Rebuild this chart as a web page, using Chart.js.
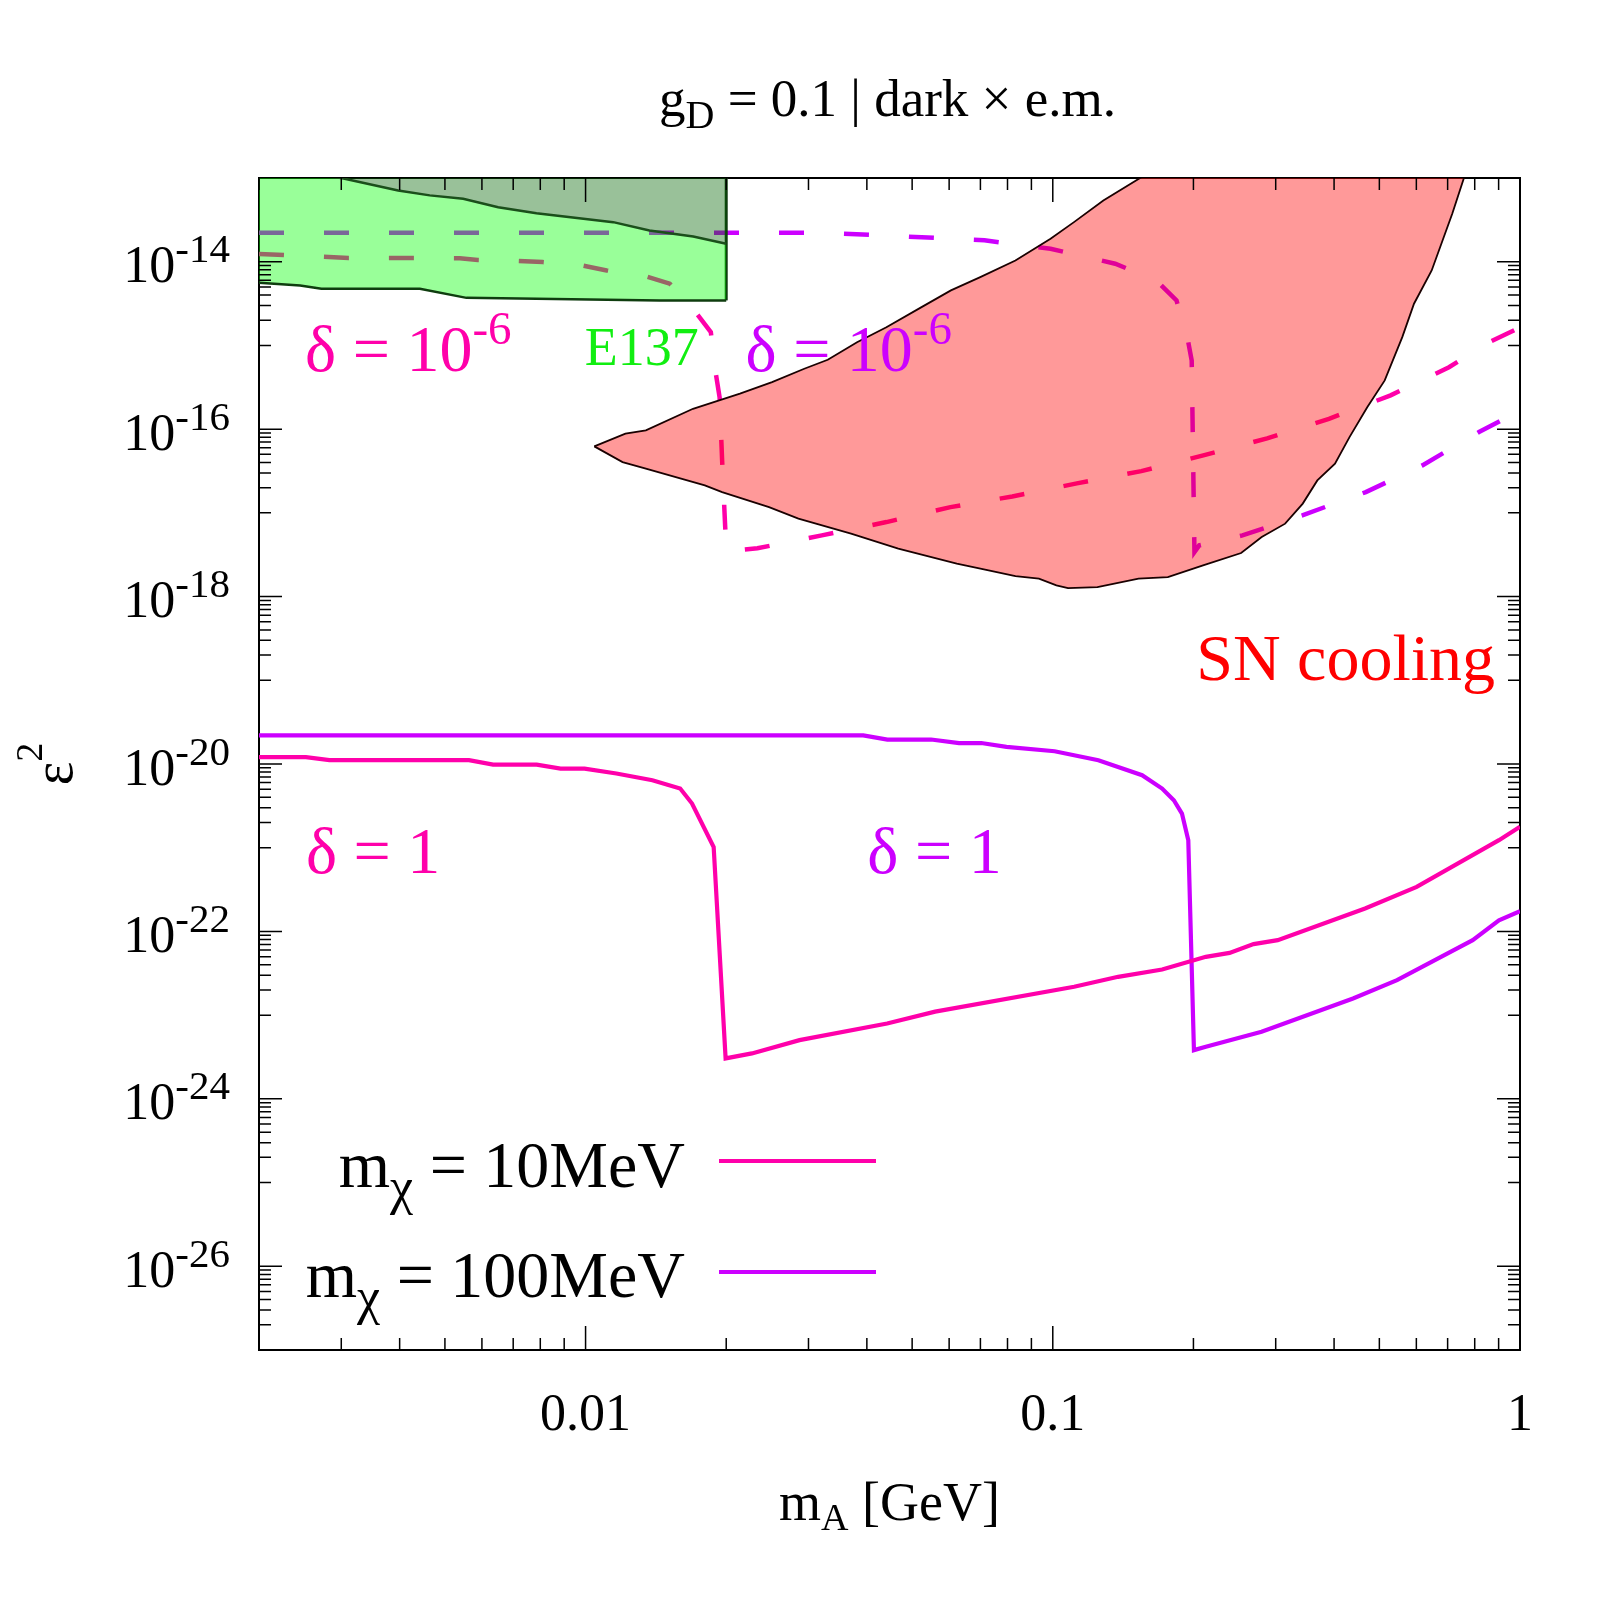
<!DOCTYPE html>
<html>
<head>
<meta charset="utf-8">
<title>gD = 0.1 | dark x e.m.</title>
<script src="https://cdn.jsdelivr.net/npm/chart.js@4.4.1/dist/chart.umd.min.js"></script>
<style>
  html, body { margin: 0; padding: 0; background: #ffffff; }
  #box { width: 1600px; height: 1600px; }
</style>
</head>
<body>
<div id="box"><canvas id="limitsChart" width="1600" height="1600"></canvas></div>
<script>
/* ===========================================
   DATA  (x = m_A [GeV], y = epsilon^2)
=========================================== */

const xMajorTicks = [0.01, 0.1, 1];
const xTickLabels = ["0.01", "0.1", "1"];
const xDecades = [0.001, 0.01, 0.1];
const yMajorTicks = [1e-26, 1e-24, 1e-22, 1e-20, 1e-18, 1e-16, 1e-14];
const yTickExponents = ["-26", "-24", "-22", "-20", "-18", "-16", "-14"];
const minorSteps = [2, 3, 4, 5, 6, 7, 8, 9];

// E137 excluded band
const e137Upper = [
    [0.002, 1.3e-13], [0.0030, 1.0e-13], [0.00397, 7.1e-14], [0.00464, 6.2e-14],
    [0.00547, 5.65e-14], [0.0065, 4.48e-14], [0.00785, 3.8e-14], [0.01146, 2.97e-14],
    [0.0137, 2.36e-14], [0.0170, 2.0e-14], [0.02, 1.64e-14]
];
const e137Lower = [
    [0.002, 5.6e-15], [0.00245, 5.2e-15], [0.00272, 4.75e-15], [0.00442, 4.75e-15],
    [0.00556, 3.7e-15], [0.0144, 3.45e-15], [0.02, 3.45e-15]
];
const e137Edge = [[0.02, 3.45e-15], [0.02, 1.0e-13]];

// SN cooling region
const snUpper = [
    [0.01044, 6.22e-17], [0.01217, 8.83e-17], [0.01346, 9.66e-17], [0.01698, 1.75e-16],
    [0.0214, 2.65e-16], [0.02507, 3.65e-16], [0.02938, 5.27e-16], [0.03299, 6.75e-16],
    [0.03811, 1.09e-15], [0.04404, 1.65e-15], [0.05237, 2.87e-15], [0.06053, 4.54e-15],
    [0.06995, 6.54e-15], [0.08318, 1.035e-14], [0.0989, 1.88e-14], [0.1110, 2.97e-14],
    [0.1283, 5.38e-14], [0.1538, 1.0e-13], [0.17, 1.4e-13], [0.8, 1.4e-13]
];
const snLower = [
    [0.01044, 6.22e-17], [0.0120, 4.04e-17], [0.01346, 3.37e-17], [0.0180, 2.13e-17],
    [0.0196, 1.77e-17], [0.0247, 1.17e-17], [0.02855, 8.53e-18], [0.0370, 5.65e-18],
    [0.0467, 3.74e-18], [0.0623, 2.47e-18], [0.0700, 2.16e-18], [0.0832, 1.75e-18],
    [0.0934, 1.64e-18], [0.1018, 1.36e-18], [0.1078, 1.26e-18], [0.1246, 1.30e-18],
    [0.1526, 1.64e-18], [0.1763, 1.71e-18], [0.2097, 2.36e-18], [0.2530, 3.31e-18],
    [0.2800, 5.14e-18], [0.3143, 7.43e-18], [0.3428, 1.29e-17], [0.3683, 2.44e-17],
    [0.4018, 3.87e-17], [0.4316, 8.04e-17], [0.4710, 1.83e-16], [0.5134, 3.82e-16],
    [0.5598, 1.256e-15], [0.5931, 3.15e-15], [0.6471, 7.86e-15], [0.7161, 3.74e-14],
    [0.7586, 1.0e-13], [0.78, 1.4e-13]
];

// delta = 1e-6 (dashed)
const dashed10MeV = [
    [0.002, 1.24e-14], [0.00311, 1.11e-14], [0.00427, 1.11e-14], [0.00538, 1.10e-14],
    [0.00588, 1.05e-14], [0.00716, 1.02e-14], [0.0081, 9.9e-15], [0.00986, 9.0e-15],
    [0.0111, 7.87e-15], [0.0135, 6.67e-15], [0.01514, 5.46e-15], [0.0172, 2.5e-15],
    [0.01854, 1.44e-15], [0.019, 4.63e-16], [0.01936, 2.39e-16], [0.0196, 4.24e-17],
    [0.0199, 6.76e-18], [0.02004, 3.47e-18], [0.02332, 3.77e-18], [0.03204, 5.38e-18],
    [0.04406, 7.76e-18], [0.0604, 1.17e-17], [0.0819, 1.57e-17], [0.1126, 2.25e-17],
    [0.1547, 3.15e-17], [0.21, 4.86e-17], [0.2876, 7.76e-17], [0.390, 1.33e-16],
    [0.5285, 2.53e-16], [0.7047, 5.5e-16], [0.858, 1.09e-15], [1, 1.64e-15]
];
const dashed100MeV = [
    [0.002, 2.22e-14], [0.032, 2.22e-14], [0.0524, 1.96e-14], [0.0714, 1.80e-14],
    [0.0989, 1.43e-14], [0.136, 9.46e-15], [0.1665, 5.97e-15], [0.184, 3.44e-15],
    [0.195, 1.09e-15], [0.1983, 6.6e-16], [0.201, 3.4e-18], [0.2058, 4.09e-18],
    [0.2546, 5.38e-18], [0.342, 9.33e-18], [0.4677, 1.77e-17], [0.618, 3.69e-17],
    [0.817, 9.23e-17], [1, 1.67e-16]
];

// delta = 1 (solid)
const solid10MeV = [
    [0.002, 1.21e-20], [0.00252, 1.21e-20], [0.00283, 1.11e-20], [0.00563, 1.11e-20],
    [0.00634, 9.84e-21], [0.00786, 9.84e-21], [0.00884, 8.81e-21], [0.00995, 8.81e-21],
    [0.01164, 7.69e-21], [0.0139, 6.4e-21], [0.01594, 5.09e-21], [0.0169, 3.37e-21],
    [0.0188, 1.02e-21], [0.01994, 3.04e-24], [0.0227, 3.49e-24], [0.0287, 5.03e-24],
    [0.0442, 7.95e-24], [0.056, 1.1e-23], [0.1111, 2.18e-23], [0.138, 2.87e-23],
    [0.1714, 3.51e-23], [0.2126, 4.97e-23], [0.239, 5.54e-23], [0.269, 7.05e-23],
    [0.303, 7.87e-23], [0.466, 1.88e-22], [0.601, 3.4e-22], [0.9015, 1.23e-21],
    [1, 1.78e-21]
];
const solid100MeV = [
    [0.002, 2.2e-20], [0.0393, 2.2e-20], [0.04426, 1.96e-20], [0.0549, 1.96e-20],
    [0.0630, 1.78e-20], [0.0703, 1.78e-20], [0.0796, 1.6e-20], [0.1009, 1.42e-20],
    [0.1252, 1.11e-20], [0.1553, 7.34e-21], [0.1714, 5.09e-21], [0.1816, 3.69e-21],
    [0.189, 2.56e-21], [0.195, 1.23e-21], [0.2005, 3.82e-24], [0.2126, 4.19e-24],
    [0.2798, 6.32e-24], [0.4392, 1.58e-23], [0.5455, 2.62e-23], [0.792, 7.87e-23],
    [0.9015, 1.36e-22], [1, 1.74e-22]
];

/* ===========================================
   STYLE
=========================================== */

const PINK = "#ff00aa";
const PURPLE = "#cc00ff";
const SERIF = '"Liberation Serif", "Times New Roman", serif';

const toXY = (pairs) => pairs.map(([x, y]) => ({ x: x, y: y }));

// text labels placed in data coordinates: [parts, x, y, colour]
const annotations = [
    [[["\u03b4 = 10", 66, 0], ["-6", 47, -27]], 0.00251, 5.0e-16, PINK],
    [[["E137", 54, 0]], 0.00996, 5.8e-16, "#11ee11"],
    [[["\u03b4 = 10", 66, 0], ["-6", 47, -27]], 0.0220, 5.0e-16, PURPLE],
    [[["SN cooling", 66, 0]], 0.2028, 1.0e-19, "#ff0000"],
    [[["\u03b4 = 1", 66, 0]], 0.00252, 4.96e-22, PINK],
    [[["\u03b4 = 1", 66, 0]], 0.0401, 4.96e-22, PURPLE]
];

function drawParts(ctx, parts, x, y, align) {
    let total = 0;
    const widths = parts.map(([t, s]) => {
        ctx.font = s + "px " + SERIF;
        const w = ctx.measureText(t).width;
        total += w;
        return w;
    });
    let cx = align === "right" ? x - total : align === "center" ? x - total / 2 : x;
    parts.forEach(([t, s, dy], i) => {
        ctx.font = s + "px " + SERIF;
        ctx.fillText(t, cx, y + (dy || 0));
        cx += widths[i];
    });
}

/* ===========================================
   FRAME, TICKS, LABELS, LEGEND
=========================================== */

const decorPlugin = {
    id: "decor",
    afterDraw(chart) {
        const { ctx, chartArea: a } = chart;
        const sx = chart.scales.x;
        const sy = chart.scales.y;

        ctx.save();

        // inward tick marks on all four sides
        ctx.strokeStyle = "#000000";
        ctx.lineWidth = 1.5;
        ctx.beginPath();
        const xt = (v, len) => {
            const p = sx.getPixelForValue(v);
            ctx.moveTo(p, a.bottom); ctx.lineTo(p, a.bottom - len);
            ctx.moveTo(p, a.top); ctx.lineTo(p, a.top + len);
        };
        const yt = (v, len) => {
            const p = sy.getPixelForValue(v);
            ctx.moveTo(a.left, p); ctx.lineTo(a.left + len, p);
            ctx.moveTo(a.right, p); ctx.lineTo(a.right - len, p);
        };
        xDecades.forEach((d) => minorSteps.forEach((m) => xt(d * m, 12)));
        xMajorTicks.forEach((v) => xt(v, 24));
        yMajorTicks.forEach((v) => {
            yt(v, 23);
            for (let n = 1; n <= 9; n++) yt(v * n / 10, 12);
        });
        ctx.stroke();

        // tick labels
        ctx.fillStyle = "#000000";
        ctx.textAlign = "left";
        ctx.textBaseline = "alphabetic";
        xMajorTicks.forEach((v, i) => {
            drawParts(ctx, [[xTickLabels[i], 52, 0]], sx.getPixelForValue(v), 1430, "center");
        });
        yMajorTicks.forEach((v, i) => {
            const p = sy.getPixelForValue(v);
            drawParts(ctx, [["10", 52, 0], [yTickExponents[i], 41, -20]], a.left - 29, p + 20.5, "right");
        });

        // title and axis titles
        const cx = (a.left + a.right) / 2;
        drawParts(ctx, [["g", 53, 0], ["D", 40, 12], [" = 0.1 | dark \u00d7 e.m.", 53, 0]], cx - 2, 116, "center");
        drawParts(ctx, [["m", 54, 0], ["A", 38, 10], [" [GeV]", 54, 0]], cx, 1520, "center");

        ctx.save();
        ctx.translate(72, (a.top + a.bottom) / 2);
        ctx.rotate(-Math.PI / 2);
        drawParts(ctx, [["\u03b5", 56, 0], ["2", 38, -30]], 0, 0, "center");
        ctx.restore();

        // region / curve annotations
        annotations.forEach(([parts, x, y, colour]) => {
            ctx.fillStyle = colour;
            drawParts(ctx, parts, sx.getPixelForValue(x), sy.getPixelForValue(y), "left");
        });

        // legend
        ctx.fillStyle = "#000000";
        drawParts(ctx, [["m", 66, 0], ["\u03c7", 52, 17], [" = 10MeV", 66, 0]], 685, 1187, "right");
        drawParts(ctx, [["m", 66, 0], ["\u03c7", 52, 17], [" = 100MeV", 66, 0]], 685, 1297, "right");
        ctx.lineWidth = 4;
        ctx.strokeStyle = PINK;
        ctx.beginPath(); ctx.moveTo(719, 1161); ctx.lineTo(876, 1161); ctx.stroke();
        ctx.strokeStyle = PURPLE;
        ctx.beginPath(); ctx.moveTo(719, 1272); ctx.lineTo(876, 1272); ctx.stroke();

        ctx.restore();
    }
};

/* ===========================================
   CHART
=========================================== */

const axisBase = (type, position, min, max, horizontal) => ({
    type: type,
    position: position,
    min: min,
    max: max,
    z: 1,
    ticks: { display: false },
    grid: { display: false, drawTicks: false },
    border: { display: true, color: "#000000", width: 2 },
    afterFit: (scale) => {
        if (horizontal) { scale.height = 0; } else { scale.width = 0; }
    }
});

const lineSet = (label, pairs, colour, width, extra) => Object.assign({
    label: label,
    data: toXY(pairs),
    borderColor: colour,
    borderWidth: width,
    pointRadius: 0,
    tension: 0,
    fill: false
}, extra || {});

const limitsChart = new Chart(

    document.getElementById("limitsChart"),

    {

        type: "line",

        data: {

            datasets: [

                lineSet("E137 upper", e137Upper, "#1b4f1b", 2.5,
                    { backgroundColor: "rgba(0,100,0,0.4)", fill: "end", order: 1 }),

                lineSet("E137", e137Lower, "#0f3d0f", 2.5,
                    { backgroundColor: "rgba(0,255,0,0.4)", fill: 0, order: 1 }),

                lineSet("E137 edge", e137Edge, "#0f3d0f", 3, { order: 1 }),

                lineSet("SN upper", snUpper, "#1a0000", 1.8, { order: 2 }),

                lineSet("SN cooling", snLower, "#1a0000", 1.8,
                    { backgroundColor: "rgba(255,0,0,0.4)", fill: 3, order: 2 }),

                lineSet("m = 10MeV, delta = 1e-6", dashed10MeV, PINK, 4.5,
                    { borderDash: [25, 40], order: 3 }),

                lineSet("m = 100MeV, delta = 1e-6", dashed100MeV, PURPLE, 4.5,
                    { borderDash: [25, 40], order: 3 }),

                lineSet("m = 10MeV, delta = 1", solid10MeV, PINK, 4.2, { order: 3 }),

                lineSet("m = 100MeV, delta = 1", solid100MeV, PURPLE, 4.2, { order: 3 })

            ]

        },

        options: {

            responsive: false,

            animation: false,

            layout: {
                padding: { left: 259, top: 178, right: 80, bottom: 250 }
            },

            plugins: {
                legend: { display: false },
                tooltip: { enabled: false }
            },

            scales: {
                x: axisBase("logarithmic", "bottom", 0.002, 1, true),
                x2: axisBase("logarithmic", "top", 0.002, 1, true),
                y: axisBase("logarithmic", "left", 1e-27, 1e-13, false),
                y2: axisBase("logarithmic", "right", 1e-27, 1e-13, false)
            }

        },

        plugins: [decorPlugin]

    }

);
</script>
</body>
</html>
